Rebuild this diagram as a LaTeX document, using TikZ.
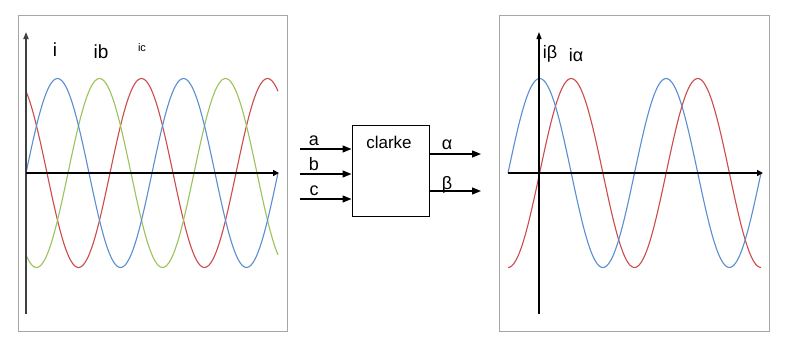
\documentclass[tikz,border=0pt]{standalone}
\usepackage{fontspec}
\setmainfont{Liberation Sans}
\usetikzlibrary{arrows.meta}
\definecolor{wblue}{HTML}{5B8ED0}
\definecolor{wred}{HTML}{CC4B4B}
\definecolor{wgreen}{HTML}{9CC25C}
\definecolor{framec}{HTML}{A6A6A6}
\begin{document}
\begin{tikzpicture}[x=1pt,y=-1pt,
  frame/.style={draw=framec,line width=1pt},
  wave/.style={line width=1.1pt},
  axisx/.style={line width=2.6pt,-{Triangle[length=6pt,width=6pt]}},
  axisy/.style={line width=1.6pt,-{Triangle[length=7pt,width=5pt]}},
  sig/.style={line width=1.3pt,-{Triangle[length=9pt,width=7pt]}},
  lbl/.style={inner sep=0pt,font=\fontsize{18}{21}\selectfont},
  blk/.style={draw,line width=1pt,minimum width=77pt,minimum height=91pt,inner sep=0pt}
]
\useasboundingbox (0,0) rectangle (794,346);
\fill[white] (0,0) rectangle (794,346);

% ---------- left panel ----------
\draw[frame] (18,15) rectangle (287,331);
\coordinate (lO) at (26,173);
\coordinate (lT) at (26,32);
\coordinate (lB) at (26,314);
\coordinate (lR) at (279,173);
\draw[wave,wred]   plot[domain=26:278,samples=140,smooth] (\x,{173-94.5*sin((\x-26)/126*360-240)});
\draw[wave,wgreen] plot[domain=26:278,samples=140,smooth] (\x,{173-94.5*sin((\x-26)/126*360-120)});
\draw[wave,wblue]  plot[domain=26:278,samples=140,smooth] (\x,{173-94.5*sin((\x-26)/126*360)});
\draw[axisy,draw=black!75,fill=black!75] (lB) -- (lT);
\draw[axisx] (lO) -- (lR);
\node[lbl,font=\fontsize{19}{22}\selectfont] (li) at (55,50) {i};
\node[lbl,font=\fontsize{19}{22}\selectfont] (lib) at (101,52) {ib};
\node[lbl,font=\fontsize{11}{13}\selectfont] (lic) at (142,48) {ic};

% ---------- clarke block ----------
\node[blk] (clarke) at (390.5,170.5) {};
\node[lbl,font=\fontsize{17}{20}\selectfont] (ctext) at (389,142) {clarke};
\coordinate (ina) at (300,149);
\coordinate (inb) at (300,174);
\coordinate (inc) at (300,199);
\draw[sig] (ina) -- (ina -| clarke.west);
\draw[sig] (inb) -- (inb -| clarke.west);
\draw[sig] (inc) -- (inc -| clarke.west);
\node[lbl] (la) at (314,141) {a};
\node[lbl] (lb) at (314,164) {b};
\node[lbl] (lc) at (314,191) {c};
\coordinate (outa) at (481,154);
\coordinate (outb) at (481,191);
\draw[sig] (outa -| clarke.east) -- (outa);
\draw[sig] (outb -| clarke.east) -- (outb);
\node[lbl] (lal) at (447,145) {α};
\node[lbl] (lbe) at (447,185) {β};

% ---------- right panel ----------
\draw[frame] (499,15) rectangle (769,331);
\coordinate (rT) at (539,32);
\coordinate (rB) at (539,314);
\coordinate (rL) at (508,173);
\coordinate (rR) at (763,173);
\draw[wave,wred]  plot[domain=508:761,samples=140,smooth] (\x,{173-94.5*sin((\x-508)/126.5*360-90)});
\draw[wave,wblue] plot[domain=508:761,samples=140,smooth] (\x,{173-94.5*sin((\x-508)/126.5*360)});
\draw[axisy,line width=1.3pt] (rB) -- (rT);
\draw[axisx] (rL) -- (rR);
\node[lbl] (lib2) at (550,54) {iβ};
\node[lbl] (lia2) at (576,55) {iα};
\end{tikzpicture}
\end{document}
